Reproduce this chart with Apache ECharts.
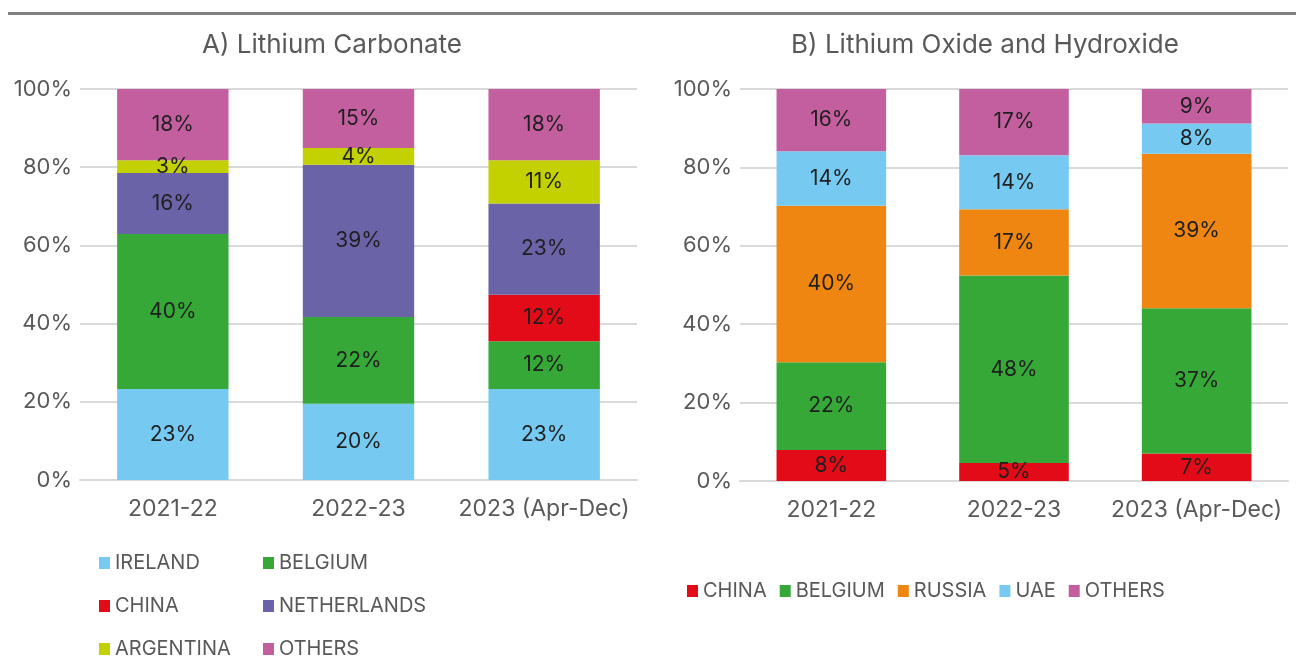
<!DOCTYPE html>
<html>
<head>
<meta charset="utf-8">
<script src="https://cdn.jsdelivr.net/npm/echarts@6/dist/echarts.min.js"></script>
<style>
  html, body { margin: 0; padding: 0; background: #fff; }
  #chart { width: 1296px; height: 671px; }
</style>
</head>
<body>
<div id="chart"></div>
<script>
// categories
const years = ['2021-22', '2022-23', '2023 (Apr-Dec)']
const yTicks = [0, 20, 40, 60, 80, 100]

// A) Lithium Carbonate (share %, bottom to top)
const carbIreland = [23.3, 19.5, 23.3]
const carbBelgium = [39.6, 22.2, 12.2]
const carbChina = [0, 0, 11.9]
const carbNetherlands = [15.6, 38.9, 23.3]
const carbArgentina = [3.3, 4.3, 11.1]
const carbOthers = [18.2, 15.1, 18.2]

// B) Lithium Oxide and Hydroxide (share %, bottom to top)
const oxChina = [7.9, 4.6, 7.0]
const oxBelgium = [22.4, 47.8, 37.1]
const oxRussia = [39.9, 16.9, 39.4]
const oxUae = [13.9, 13.8, 7.7]
const oxOthers = [15.9, 16.9, 8.8]

const colors = {
  blue: '#76caf2',
  green: '#36a838',
  red: '#e30b17',
  purple: '#6a63a8',
  lime: '#c3d100',
  pink: '#c45f9f',
  orange: '#ef8611'
}

const FONT = 'Inter, "Noto Sans", sans-serif'
const textGray = '#595959'
const gridGray = '#d9d9d9'

const chart = echarts.init(document.getElementById('chart'))

const barSeries = (name, data, color, idx) => ({
  name,
  type: 'bar',
  stack: 'stack' + idx,
  xAxisIndex: idx,
  yAxisIndex: idx,
  barWidth: '60%',
  data,
  itemStyle: { color },
  label: {
    show: true,
    position: 'inside',
    color: '#1f1f1f',
    fontFamily: FONT,
    fontSize: 21,
    formatter: (p) => (p.value ? Math.round(p.value) + '%' : '')
  }
})

const xAxisBase = (idx) => ({
  type: 'category',
  gridIndex: idx,
  data: years,
  axisTick: { show: false },
  axisLine: { lineStyle: { color: gridGray, width: 2 } },
  axisLabel: { color: textGray, fontFamily: FONT, fontSize: 23, margin: 18, interval: 0 }
})

const yAxisBase = (idx) => ({
  type: 'value',
  gridIndex: idx,
  min: yTicks[0],
  max: yTicks[yTicks.length - 1],
  interval: 20,
  axisLine: { show: false },
  axisTick: { show: false },
  splitLine: { lineStyle: { color: gridGray, width: 2 } },
  axisLabel: { color: textGray, fontFamily: FONT, fontSize: 22, margin: 8, formatter: '{value}%' }
})

const legendText = { color: textGray, fontFamily: FONT, fontSize: 20 }
const legendBase = { itemWidth: 11, itemHeight: 12, icon: 'rect', padding: 0, textStyle: legendText }

const option = {
  animation: false,
  graphic: [
    { type: 'rect', shape: { x: 8, y: 12, width: 1288, height: 3 }, style: { fill: '#808080' } }
  ],
  title: [
    { text: 'A) Lithium Carbonate', left: 327, top: 27, textAlign: 'center',
      textStyle: { color: textGray, fontFamily: FONT, fontSize: 26, fontWeight: 'normal' } },
    { text: 'B) Lithium Oxide and Hydroxide', left: 980, top: 27, textAlign: 'center',
      textStyle: { color: textGray, fontFamily: FONT, fontSize: 26, fontWeight: 'normal' } }
  ],
  grid: [
    { left: 80, right: 659, top: 89, bottom: 191 },
    { left: 740, right: 8, top: 89, bottom: 190 }
  ],
  xAxis: [xAxisBase(0), xAxisBase(1)],
  yAxis: [yAxisBase(0), yAxisBase(1)],
  legend: [
    Object.assign({ data: ['IRELAND', 'CHINA', 'ARGENTINA'], orient: 'vertical', left: 99, top: 553, itemGap: 23 }, legendBase),
    Object.assign({ data: ['BELGIUM', 'NETHERLANDS', 'OTHERS'], orient: 'vertical', left: 263, top: 553, itemGap: 23 }, legendBase),
    Object.assign({ data: ['CHINA', 'BELGIUM', 'RUSSIA', 'UAE', 'OTHERS'], orient: 'horizontal', left: 687, top: 581, itemGap: 13 }, legendBase)
  ],
  series: [
    barSeries('IRELAND', carbIreland, colors.blue, 0),
    barSeries('BELGIUM', carbBelgium, colors.green, 0),
    barSeries('CHINA', carbChina, colors.red, 0),
    barSeries('NETHERLANDS', carbNetherlands, colors.purple, 0),
    barSeries('ARGENTINA', carbArgentina, colors.lime, 0),
    barSeries('OTHERS', carbOthers, colors.pink, 0),
    barSeries('CHINA', oxChina, colors.red, 1),
    barSeries('BELGIUM', oxBelgium, colors.green, 1),
    barSeries('RUSSIA', oxRussia, colors.orange, 1),
    barSeries('UAE', oxUae, colors.blue, 1),
    barSeries('OTHERS', oxOthers, colors.pink, 1)
  ]
}

chart.setOption(option)
</script>
</body>
</html>
